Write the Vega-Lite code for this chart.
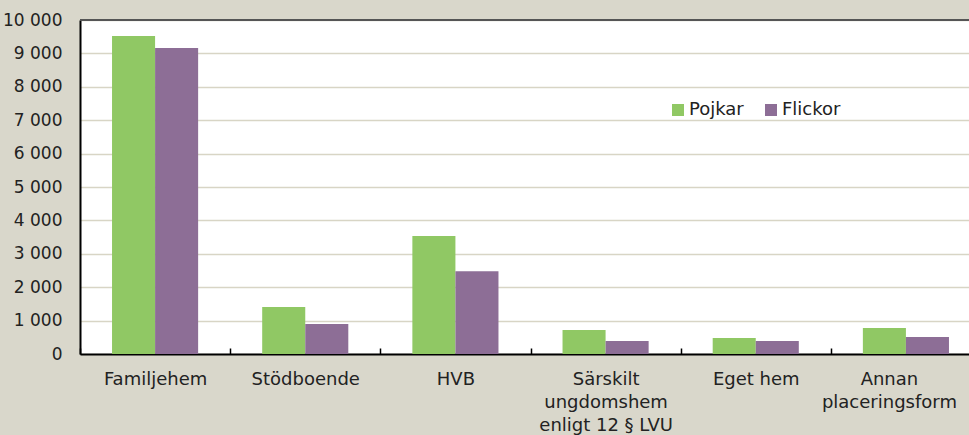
{
  "$schema": "https://vega.github.io/schema/vega-lite/v6.json",
  "width": 889,
  "height": 334,
  "autosize": "none",
  "padding": {"left": 80, "top": 20, "right": 0, "bottom": 81},
  "background": "#d9d7cb",
  "config": {"view": {"stroke": null, "fill": "white"}, "font": "DejaVu Sans"},
  "data": {"values": [
    {"cat": "Familjehem", "sex": "Pojkar", "v": 9520},
    {"cat": "Familjehem", "sex": "Flickor", "v": 9160},
    {"cat": "Stödboende", "sex": "Pojkar", "v": 1410},
    {"cat": "Stödboende", "sex": "Flickor", "v": 900},
    {"cat": "HVB", "sex": "Pojkar", "v": 3530},
    {"cat": "HVB", "sex": "Flickor", "v": 2480},
    {"cat": "Särskilt ungdomshem enligt 12 § LVU", "sex": "Pojkar", "v": 720},
    {"cat": "Särskilt ungdomshem enligt 12 § LVU", "sex": "Flickor", "v": 390},
    {"cat": "Eget hem", "sex": "Pojkar", "v": 480},
    {"cat": "Eget hem", "sex": "Flickor", "v": 390},
    {"cat": "Annan placeringsform", "sex": "Pojkar", "v": 780},
    {"cat": "Annan placeringsform", "sex": "Flickor", "v": 510}
  ]},
  "layer": [
    {
      "mark": {"type": "bar"},
      "encoding": {
        "x": {
          "field": "cat", "type": "nominal",
          "sort": ["Familjehem", "Stödboende", "HVB", "Särskilt ungdomshem enligt 12 § LVU", "Eget hem", "Annan placeringsform"],
          "scale": {"range": [0, 901], "paddingInner": 0, "paddingOuter": 0},
          "axis": {
            "title": null, "labelAngle": 0, "labelFontSize": 18, "labelColor": "#222",
            "domainColor": "#000", "domainWidth": 2, "tickBand": "extent", "tickColor": "#000",
            "tickSize": -6, "tickWidth": 1.5, "labelPadding": 22, "labelLineHeight": 23,
            "labelOverlap": false, "labelBound": false,
            "labelOffset": {"condition": {"test": "datum.value == 'Annan placeringsform'", "value": -17}, "value": 0},
            "labelExpr": "datum.label == 'Särskilt ungdomshem enligt 12 § LVU' ? ['Särskilt', 'ungdomshem', 'enligt 12 § LVU'] : datum.label == 'Annan placeringsform' ? ['Annan', 'placeringsform'] : datum.label"
          }
        },
        "xOffset": {"field": "sex", "type": "nominal", "sort": ["Pojkar", "Flickor"], "scale": {"paddingInner": 0, "paddingOuter": 0.744}},
        "y": {
          "field": "v", "type": "quantitative",
          "scale": {"domain": [0, 10000], "nice": false},
          "axis": {
            "title": null, "values": [0, 1000, 2000, 3000, 4000, 5000, 6000, 7000, 8000, 9000, 10000],
            "tickCount": 20,
            "labelExpr": "replace(format(datum.value, ','), ',', ' ')",
            "labelOverlap": false,
            "labelFontSize": 17, "labelColor": "#222", "ticks": false, "labelPadding": 18,
            "domainColor": "#000", "domainWidth": 2,
            "grid": true, "gridColor": "#d8d5c5", "gridWidth": 1.5
          }
        },
        "color": {
          "field": "sex", "type": "nominal",
          "scale": {"domain": ["Pojkar", "Flickor"], "range": ["#90c864", "#8d6e96"]},
          "legend": {
            "title": null, "orient": "none", "legendX": 589, "legendY": 81, "direction": "horizontal",
            "symbolType": "square", "symbolSize": 144, "symbolStrokeWidth": 0,
            "labelFontSize": 18, "labelColor": "#222", "labelOffset": 2, "columnPadding": 18
          }
        }
      }
    },
    {
      "mark": {"type": "rule", "color": "#555", "strokeWidth": 2},
      "encoding": {
        "y": {
          "datum": 10000, "type": "quantitative",
          "scale": {"domain": [0, 10000], "nice": false},
          "axis": {
            "title": null, "values": [0, 1000, 2000, 3000, 4000, 5000, 6000, 7000, 8000, 9000, 10000],
            "tickCount": 20,
            "labelExpr": "replace(format(datum.value, ','), ',', ' ')",
            "labelOverlap": false,
            "labelFontSize": 17, "labelColor": "#222", "ticks": false, "labelPadding": 18,
            "domainColor": "#000", "domainWidth": 2,
            "grid": true, "gridColor": "#d8d5c5", "gridWidth": 1.5
          }
        }
      }
    }
  ]
}
